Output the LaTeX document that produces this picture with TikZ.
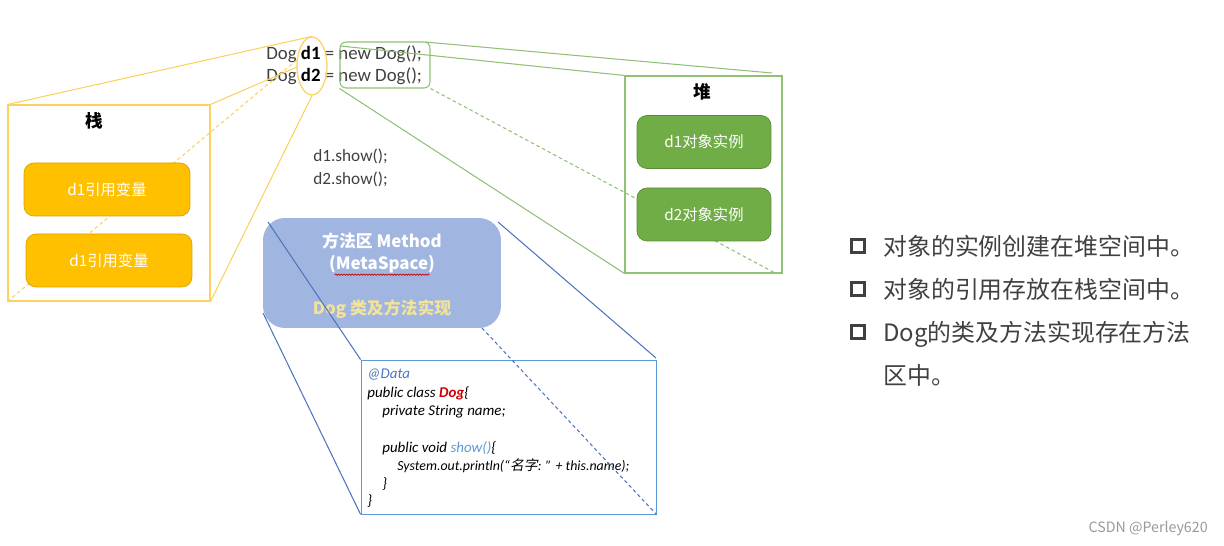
\documentclass[tikz,border=0pt]{standalone}
\usepackage{fontspec}
\setmainfont{Noto Sans CJK SC}
\newfontfamily\slantcjk[FakeSlant=0.2]{Noto Sans CJK SC}
\newfontfamily\latinfont{Carlito}
\usetikzlibrary{positioning,shapes.geometric,decorations.pathmorphing}
\definecolor{stackline}{HTML}{FBD25F}
\definecolor{stackfill}{HTML}{FFC000}
\definecolor{heapline}{HTML}{91C077}
\definecolor{heapfill}{HTML}{70AD47}
\definecolor{methodline}{HTML}{4F74C0}
\definecolor{methodfill}{HTML}{A0B6E0}
\definecolor{methodyellow}{HTML}{F3E39A}
\definecolor{codeline}{HTML}{5B9BD5}
\definecolor{darktext}{HTML}{404040}
\tikzset{
  frame/.style={draw, inner sep=0pt},
  stackbox/.style={draw=stackfill!85!black, fill=stackfill, rounded corners=0.2cm, minimum width=3.32cm, minimum height=1.06cm, inner sep=0pt, text=white, font=\fontsize{8.7}{8.7}\selectfont},
  heapbox/.style={draw=heapfill!80!black, fill=heapfill, rounded corners=0.2cm, minimum width=2.68cm, minimum height=1.06cm, inner sep=0pt, text=white, font=\fontsize{8.7}{8.7}\selectfont},
  plaintext/.style={anchor=base west, inner sep=0pt, text=darktext, font=\fontsize{10.7}{10.7}\selectfont\latinfont},
  calltext/.style={plaintext, font=\fontsize{9.8}{9.8}\selectfont\latinfont},
  codetext/.style={anchor=base west, inner sep=0pt, text=black, font=\fontsize{8.5}{8.5}\selectfont\latinfont\itshape},
  printtext/.style={codetext, font=\fontsize{7.9}{7.9}\selectfont\latinfont\itshape},
  methodtext/.style={inner sep=0pt, text=white, font=\fontsize{9.6}{9.6}\selectfont\bfseries},
  notetext/.style={anchor=base west, inner sep=0pt, text=darktext, font=\fontsize{13.6}{13.6}\selectfont},
  bulletbox/.style={draw=darktext, line width=2.2pt, minimum size=0.26cm, inner sep=0pt},
  stackedge/.style={stackline, line width=0.6pt},
  heapedge/.style={heapline, line width=0.6pt},
  methodedge/.style={methodline, line width=0.6pt},
  dottededge/.style={dash pattern=on 2pt off 1.6pt},
}
\begin{document}
\begin{tikzpicture}[x=0.02cm,y=-0.02cm]
\useasboundingbox (0,0) rectangle (1224,546);
\node[plaintext] (line1) at (266,60) {Dog \textbf{\textcolor{black}{d1}} = new Dog();};
\node[plaintext] (line2) at (266,82) {Dog \textbf{\textcolor{black}{d2}} = new Dog();};
\node[calltext] (call1) at (313,162) {d1.show();};
\node[calltext] (call2) at (313,185) {d2.show();};
\node[draw=stackline, line width=0.7pt, ellipse, minimum width=0.6cm, minimum height=1.16cm, inner sep=0pt] (refs) at (312,66) {};
\node[draw=heapline, line width=0.6pt, rounded corners=0.12cm, minimum width=1.8cm, minimum height=0.92cm, inner sep=0pt] (news) at (385,65) {};
\node[frame, stackline, line width=0.6pt, minimum width=4.04cm, minimum height=3.92cm] (stack) at (109,203) {};
\node[frame, heapline, line width=0.6pt, minimum width=3.14cm, minimum height=3.94cm] (heap) at (703.5,174.5) {};
\node[font=\fontsize{10}{10}\selectfont\bfseries] (stacktitle) at (94,121) {栈};
\node[font=\fontsize{10}{10}\selectfont\bfseries] (heaptitle) at (702,92) {堆};
\coordinate (refmid) at (297,67);
\coordinate (refback) at (297,60);
\coordinate (newa) at (340,46);
\coordinate (newb) at (425,42);
\coordinate (heaptop) at (772,73);
\coordinate (heapend) at (775,273);
\draw[stackedge] (stack.north west) -- (refs.north);
\draw[stackedge] (stack.north east) -- (refmid);
\draw[stackedge] (stack.south east) -- (refs.south);
\draw[stackedge, dottededge] (stack.south west) -- (refback);
\draw[heapedge] (newa) -- (heap.north west);
\draw[heapedge] (newb) -- (heaptop);
\draw[heapedge] (news.south west) -- (heap.south west);
\draw[heapedge, dottededge] (news.south east) -- (heapend);
\node[stackbox] (ref1) at (107,189.5) {d1引用变量};
\node[stackbox] (ref2) at (109,260.5) {d1引用变量};
\node[heapbox] (obj1) at (704,142) {d1对象实例};
\node[heapbox] (obj2) at (704,214.5) {d2对象实例};
\node[fill=methodfill, rounded corners=0.44cm, minimum width=4.76cm, minimum height=2.2cm, inner sep=0pt] (method) at (382,273) {};
\node[methodtext] (methodname) at (382,241) {方法区 Method};
\node[methodtext] (metaspace) at (382,264) {(MetaSpace)};
\node[methodtext, text=methodyellow] (methoddog) at (382,309) {Dog 类及方法实现};
\draw[red!75!black, line width=0.4pt, decorate, decoration={snake, amplitude=0.35pt, segment length=1.6pt}] ([xshift=0.12cm,yshift=-0.03cm]metaspace.south west) -- ([xshift=-0.12cm,yshift=-0.03cm]metaspace.south east);
\node[frame, codeline, line width=0.5pt, minimum width=5.9cm, minimum height=3.08cm] (code) at (508.5,437) {};
\coordinate (methodtl) at (268,222);
\coordinate (methodtr) at (498,222);
\coordinate (methodbl) at (263,313);
\coordinate (methodbr) at (482,328);
\coordinate (codetr) at (656,358);
\draw[methodedge] (methodtl) -- (code.north west);
\draw[methodedge] (methodtr) -- (codetr);
\draw[methodedge] (methodbl) -- (code.south west);
\node[codetext, text=methodline] (code1) at (367,379) {@Data};
\node[codetext] (code2) at (367,398) {public class \textcolor{red!80!black}{\textbf{Dog}}\{};
\node[codetext] (code3) at (382,416) {private String name;};
\node[codetext] (code4) at (382,453) {public void \textcolor{codeline}{show()}\{};
\node[printtext] (code5) at (397,471) {System.out.println(“{\slantcjk 名字}: ” + this.name);};
\node[codetext] (code6) at (382,489) {\}};
\node[codetext] (code7) at (367,506) {\}};
\draw[methodedge, dottededge] (methodbr) -- (code.south east);
\node[bulletbox] (bullet1) at (858,246) {};
\node[bulletbox] (bullet2) at (858,289) {};
\node[bulletbox] (bullet3) at (858,332) {};
\node[notetext] (note1) at (883,255.5) {对象的实例创建在堆空间中。};
\node[notetext] (note2) at (883,298.5) {对象的引用存放在栈空间中。};
\node[notetext] (note3) at (883,341.5) {Dog的类及方法实现存在方法};
\node[notetext] (note4) at (883,384.5) {区中。};
\node[anchor=east, inner sep=0pt, text=black!40, font=\fontsize{8.1}{8.1}\selectfont] (mark) at (1208,529) {CSDN @Perley620};
\end{tikzpicture}
\end{document}
